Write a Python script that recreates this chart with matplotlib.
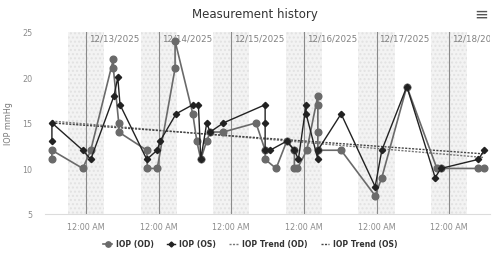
import matplotlib
matplotlib.use("Agg")
import matplotlib.pyplot as plt
import numpy as np

# x = days since 12/13/2025 00:00
od_days = [-0.47, -0.47, -0.045, 0.065, 0.376, 0.376, 0.45, 0.45, 0.836, 0.844, 0.98,
           1.226, 1.226, 1.47, 1.525, 1.58, 1.66, 1.71, 1.89, 2.34, 2.466, 2.466, 2.617,
           2.764, 2.869, 2.869, 2.91, 3.04, 3.192, 3.192, 3.192, 3.192, 3.512, 3.981,
           4.073, 4.417, 4.831, 4.886, 5.404, 5.482]
od_vals = [11, 12, 10, 12, 22, 21, 15, 14, 12, 10, 10,
           21, 24, 16, 13, 11, 13, 14, 14, 15, 12, 11, 10,
           13, 12, 10, 10, 12, 18, 17, 14, 12, 12, 7,
           9, 19, 10, 10, 10, 10]

os_days = [-0.47, -0.47, -0.045, 0.065, 0.386, 0.437, 0.468, 0.836, 0.98, 1.019,
           1.24, 1.47, 1.547, 1.58, 1.662, 1.708, 1.891, 2.466, 2.466, 2.466, 2.534,
           2.764, 2.869, 2.924, 3.03, 3.03, 3.192, 3.192, 3.512, 3.981, 4.073, 4.417,
           4.807, 4.886, 5.404, 5.482]
os_vals = [13, 15, 12, 11, 18, 20, 17, 11, 12, 13,
           16, 17, 17, 11, 15, 14, 15, 17, 15, 12, 12,
           13, 12, 11, 17, 16, 11, 12, 16, 8, 12, 19,
           9, 10, 11, 12]

trend_days = [-0.47, 5.482]
trend_od = [15.2, 11.2]
trend_os = [15.0, 11.6]

day_ticks = [0, 1, 2, 3, 4, 5]
day_labels = ["12/13/2025", "12/14/2025", "12/15/2025", "12/16/2025", "12/17/2025", "12/18/2025"]
y_ticks = [5, 10, 15, 20, 25]

plt.rcParams['font.family'] = ['DejaVu Sans']

fig = plt.figure(figsize=(4.93, 2.55), dpi=100)
ax = fig.add_axes([0.0913, 0.157, 0.903, 0.714])

# night bands (6 PM - 6 AM) and midnight lines
for d in day_ticks:
    ax.axvspan(d - 0.25, d + 0.25, facecolor='#f3f3f3', edgecolor='#e2e2e2',
               hatch='....', linewidth=0, zorder=0)
    ax.axvline(d, color='#8a8a8a', lw=0.8, zorder=1)
    ax.text(d + 0.04, 24.8, day_labels[d], fontsize=6.3, color='#808080',
            va='top', ha='left', clip_on=True, zorder=2)

ax.plot(od_days, od_vals, color='#6a6a6a', lw=1.2, marker='o', ms=4.8,
        label='IOP (OD)', zorder=3)
ax.plot(os_days, os_vals, color='#222222', lw=1.0, marker='D', ms=3.2,
        label='IOP (OS)', zorder=4)
ax.plot(trend_days, trend_od, color='#777777', lw=1.0, ls=(0, (1.5, 1)),
        label='IOP Trend (OD)', zorder=2)
ax.plot(trend_days, trend_os, color='#444444', lw=1.0, ls=(0, (1.5, 1)),
        label='IOP Trend (OS)', zorder=2)

ax.set_xlim(-0.565, 5.565)
ax.set_ylim(5, 25)
ax.set_xticks(day_ticks)
ax.set_xticklabels(["12:00 AM"] * len(day_ticks))
ax.set_yticks(y_ticks)
ax.tick_params(axis='both', length=0, labelsize=5.8, colors='#8c8c8c', pad=6)
ax.tick_params(axis='y', pad=9)
for s in ['top', 'right', 'left']:
    ax.spines[s].set_visible(False)
ax.spines['bottom'].set_color('#dcdcdc')
ax.set_ylabel('IOP mmHg', fontsize=5.8, color='#777777', labelpad=7)

fig.text(0.517, 0.945, 'Measurement history', ha='center', va='center',
         fontsize=8.5, color='#333333')
fig.text(0.977, 0.943, '\u2261', ha='center', va='center', fontsize=12, color='#555555')

leg = fig.legend(loc='center', bbox_to_anchor=(0.508, 0.04), ncol=4, frameon=False,
                 fontsize=5.6, handlelength=1.1, columnspacing=1.7, handletextpad=0.5,
                 markerscale=0.8)
for t in leg.get_texts():
    t.set_color('#333333')
    t.set_fontweight('bold')

fig.savefig('out.png', dpi=100)
